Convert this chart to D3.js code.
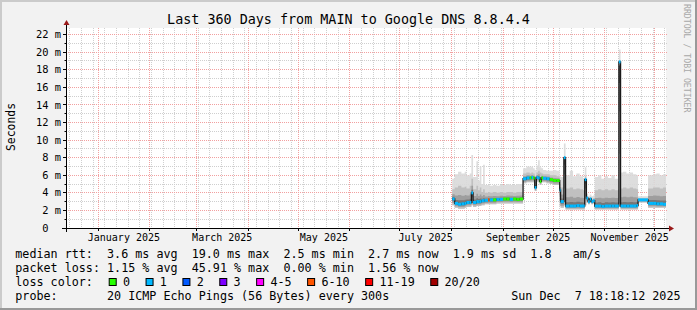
<!DOCTYPE html>
<html lang="en">

<head>
    <meta charset="UTF-8">
    <title>Last 360 Days from MAIN to Google DNS 8.8.4.4</title>
    <style>
        body {
            margin: 0;
            background: #ffffff;
        }

        svg text {
            font-family: "DejaVu Sans Mono", monospace;
        }
    </style>
    <script src="https://d3js.org/d3.v7.min.js"></script>
</head>

<body>
    <div id="chart"></div>

    <script>
        // chart texts
        const title = "Last 360 Days from MAIN to Google DNS 8.8.4.4";
        const yTitle = "Seconds";
        const watermark = "RRDTOOL / TOBI OETIKER";
        const rangeStart = "2024-12-12 18:18";
        const rangeEnd = "2025-12-07 18:18";
        const yTicks = [0, 2, 4, 6, 8, 10, 12, 14, 16, 18, 20, 22];
        const monthLabels = ["January 2025", "March 2025", "May 2025", "July 2025", "September 2025", "November 2025"];
        const monthLabelStarts = ["2025-01-01", "2025-03-01", "2025-05-01", "2025-07-01", "2025-09-01", "2025-11-01"];

        // samples (ms)
        const sampleTimes = [
            "2025-08-01 12", "2025-08-03 00", "2025-08-05 00", "2025-08-07 00", "2025-08-09 00", "2025-08-10 00",
            "2025-08-12 00", "2025-08-13 00", "2025-08-14 00", "2025-08-16 00", "2025-08-17 00", "2025-08-18 00",
            "2025-08-19 00", "2025-08-20 00", "2025-08-21 00", "2025-08-23 00", "2025-08-24 00", "2025-08-26 00",
            "2025-08-28 00", "2025-08-30 00", "2025-09-01 00", "2025-09-03 00", "2025-09-05 00", "2025-09-07 00",
            "2025-09-09 00", "2025-09-11 00", "2025-09-13 00", "2025-09-15 00", "2025-09-17 00", "2025-09-18 00",
            "2025-09-19 00", "2025-09-20 00", "2025-09-21 00", "2025-09-22 00", "2025-09-23 00", "2025-09-24 00",
            "2025-09-25 00", "2025-09-27 00", "2025-09-29 00", "2025-10-01 00", "2025-10-03 00", "2025-10-05 00",
            "2025-10-05 12", "2025-10-07 12", "2025-10-08 12", "2025-10-11 00", "2025-10-13 00", "2025-10-15 00",
            "2025-10-17 00", "2025-10-19 00", "2025-10-20 00", "2025-10-21 00", "2025-10-22 00", "2025-10-23 00",
            "2025-10-24 00", "2025-10-25 00", "2025-10-26 00", "2025-10-28 00", "2025-10-30 00", "2025-11-01 00",
            "2025-11-03 00", "2025-11-05 00", "2025-11-07 00", "2025-11-09 00", "2025-11-09 12", "2025-11-10 12",
            "2025-11-12 00", "2025-11-14 00", "2025-11-16 00", "2025-11-18 00", "2025-11-20 00", "2025-11-21 00",
            "2025-11-27 00", "2025-11-30 00", "2025-12-02 00", "2025-12-04 00", "2025-12-06 00"
        ];
        const medianMs = [
            3.3, 2.8, 2.7, 2.75, 2.8, 2.9, 2.9, 4.0, 2.9, 3.0, 3.0, 3.0,
            3.1, 3.1, 3.15, 3.2, 3.2, 3.2, 3.25, 3.25, 3.3, 3.3, 3.25, 3.3,
            3.25, 3.3, 5.6, 5.7, 5.7, 5.75, 5.7, 4.6, 5.75, 5.7, 5.3, 5.7,
            5.65, 5.6, 5.5, 5.4, 5.4, 4.3, 3.0, 8.0, 2.5, 2.5, 2.5, 2.55,
            2.5, 2.5, 5.5, 3.4, 3.0, 3.3, 3.0, 3.1, 2.5, 2.5, 2.45, 2.5,
            2.5, 2.5, 2.5, 2.5, 18.9, 2.5, 2.5, 2.5, 2.5, 2.5, 2.55, 3.2,
            2.8, 2.8, 2.75, 2.75, 2.7
        ];
        // index into lossLabels
        const lossClass = [
            1, 1, 1, 1, 1, 1, 1, 1, 1, 1, 1, 1,
            1, 1, 1, 5, 1, 0, 1, 1, 0, 0, 1, 0,
            0, 0, 1, 1, 0, 1, 0, 1, 1, 1, 0, 0,
            1, 1, 0, 0, 0, 1, 1, 1, 1, 1, 1, 1,
            1, 1, 1, 1, 1, 1, 1, 1, 1, 1, 1, 1,
            1, 1, 1, 1, 1, 1, 1, 1, 1, 1, 1, 1,
            1, 1, 1, 1, 1
        ];
        const smokeLow = [
            2.6, 2.3, 2.2, 2.2, 2.3, 2.4, 2.4, 2.6, 2.4, 2.5, 2.5, 2.5,
            2.6, 2.6, 2.7, 2.7, 2.7, 2.7, 2.8, 2.8, 2.8, 2.8, 2.8, 2.8,
            2.8, 2.8, 5.1, 5.2, 5.2, 5.2, 5.2, 4.2, 5.3, 5.2, 4.9, 5.2,
            5.2, 5.1, 5.0, 4.9, 4.9, 2.5, 2.3, 2.6, 2.1, 2.1, 2.1, 2.1,
            2.1, 2.1, 2.6, 2.9, 2.7, 2.9, 2.7, 2.8, 2.1, 2.1, 2.1, 2.1,
            2.1, 2.1, 2.1, 2.1, 2.8, 2.1, 2.1, 2.1, 2.1, 2.1, 2.1, 2.9,
            2.3, 2.3, 2.3, 2.3, 2.3
        ];
        const smokeUpper = [
            4.4, 4.6, 4.8, 4.6, 4.7, 4.5, 4.8, 5.6, 4.4, 4.8, 4.3, 4.6,
            4.1, 4.4, 4.0, 4.1, 4.0, 4.1, 4.0, 4.1, 4.0, 4.1, 4.1, 4.0,
            4.1, 4.1, 6.2, 6.3, 6.2, 6.3, 6.2, 5.9, 6.3, 6.5, 6.3, 6.2,
            6.1, 6.1, 6.0, 6.0, 5.9, 5.0, 4.6, 7.0, 4.5, 4.6, 4.4, 4.5,
            4.4, 4.3, 5.9, 3.6, 3.3, 3.5, 3.3, 3.4, 4.3, 4.4, 4.3, 4.4,
            4.3, 4.4, 4.3, 4.4, 12.0, 4.5, 4.6, 4.5, 4.6, 4.5, 4.4, 3.4,
            4.5, 4.6, 4.6, 4.5, 4.6
        ];
        const smokeTop = [
            5.6, 6.1, 6.4, 6.2, 6.4, 6.0, 6.2, 8.3, 5.8, 7.6, 5.4, 7.0,
            5.0, 7.2, 4.9, 4.9, 4.8, 4.9, 4.8, 4.9, 4.9, 5.0, 4.9, 4.9,
            5.0, 5.0, 6.8, 7.0, 6.9, 7.0, 6.8, 6.6, 7.1, 7.7, 6.9, 6.8,
            6.6, 6.5, 6.5, 6.6, 6.5, 6.0, 5.8, 9.6, 6.0, 6.5, 5.9, 6.2,
            5.9, 5.7, 6.9, 3.9, 3.6, 3.8, 3.6, 3.7, 5.8, 6.0, 5.6, 5.9,
            5.7, 6.0, 5.6, 5.8, 20.3, 6.3, 6.4, 6.2, 6.3, 6.1, 6.0, 3.6,
            6.0, 6.1, 6.2, 6.0, 6.1
        ];

        // legend
        const lossLabels = ["0", "1", "2", "3", "4-5", "6-10", "11-19", "20/20"];
        const lossColors = ["#26ff00", "#00b8ff", "#0059ff", "#7e00ff", "#ff00ff", "#ff5500", "#ff0000", "#a00000"];
        const legendLines = [
            "median rtt:  3.6 ms avg  19.0 ms max  2.5 ms min  2.7 ms now  1.9 ms sd  1.8   am/s",
            "packet loss: 1.15 % avg  45.91 % max  0.00 % min  1.56 % now",
            "loss color:",
            "probe:       20 ICMP Echo Pings (56 Bytes) every 300s"
        ];
        const stamp = "Sun Dec  7 18:18:12 2025";

        const W = 697, H = 310;
        const plotL = 66, plotR = 666, plotT = 28, plotB = 228;
        const charW = 7.06;

        const parseT = d3.timeParse("%Y-%m-%d %H");
        const parseM = d3.timeParse("%Y-%m-%d %H:%M");
        const parseD = d3.timeParse("%Y-%m-%d");
        const t0 = parseM(rangeStart);
        const t1 = parseM(rangeEnd);

        const x = d3.scaleTime().domain([t0, t1]).range([plotL, plotR]);
        const y = d3.scaleLinear().domain([0, 22.75]).range([plotB, plotT]);

        const data = sampleTimes.map((s, i) => ({
            t: parseT(s),
            med: medianMs[i],
            loss: lossClass[i],
            low: smokeLow[i],
            upper: smokeUpper[i],
            top: smokeTop[i]
        }));
        // last sample holds to the end of the range
        const stepData = data.concat([Object.assign({}, data[data.length - 1], { t: t1 })]);

        const svg = d3.select("#chart")
            .append("svg")
            .attr("width", W)
            .attr("height", H);

        // background + 3d frame
        svg.append("rect").attr("width", W).attr("height", H).attr("fill", "#f2f2f2");
        svg.append("path").attr("d", `M0,${H} V0 H${W}`).attr("stroke", "#cbcbcb").attr("stroke-width", 4).attr("fill", "none");
        svg.append("path").attr("d", `M0,${H} H${W} V0`).attr("stroke", "#999999").attr("stroke-width", 4).attr("fill", "none");
        svg.append("rect")
            .attr("x", plotL)
            .attr("y", plotT)
            .attr("width", plotR - plotL)
            .attr("height", plotB - plotT)
            .attr("fill", "#ffffff");

        // grid (under the smoke)
        const gridG = svg.append("g").attr("stroke-width", 1).attr("stroke-dasharray", "1,1");
        const px = v => Math.floor(v) + 0.5;
        d3.range(1, 23).forEach(v => {
            if (v % 2 === 0) return;
            gridG.append("line")
                .attr("x1", plotL).attr("x2", plotR + 2)
                .attr("y1", px(y(v))).attr("y2", px(y(v)))
                .attr("stroke", "#cfcfcf");
        });
        d3.timeSunday.range(t0, t1).forEach(d => {
            gridG.append("line")
                .attr("x1", px(x(d))).attr("x2", px(x(d)))
                .attr("y1", plotT).attr("y2", plotB)
                .attr("stroke", "#cfcfcf");
        });
        yTicks.filter(v => v > 0).forEach(v => {
            gridG.append("line")
                .attr("x1", plotL).attr("x2", plotR + 2)
                .attr("y1", px(y(v))).attr("y2", px(y(v)))
                .attr("stroke", "#f2a0a0");
        });
        d3.timeMonth.range(t0, t1).forEach(d => {
            gridG.append("line")
                .attr("x1", px(x(d))).attr("x2", px(x(d)))
                .attr("y1", plotT).attr("y2", plotB)
                .attr("stroke", "#f2a0a0");
        });

        // smoke
        const bands = [
            { lo: d => d.low, hi: d => d.top, fill: "#d9d9d9" },
            { lo: d => d.low, hi: d => d.upper, fill: "#bcbcbc" },
            { lo: d => d.low + (d.med - d.low) * 0.35, hi: d => d.med + (d.upper - d.med) * 0.5, fill: "#9a9a9a" },
            { lo: d => d.low + (d.med - d.low) * 0.65, hi: d => d.med + (d.upper - d.med) * 0.22, fill: "#727272" },
            { lo: d => d.low + (d.med - d.low) * 0.85, hi: d => d.med + (d.upper - d.med) * 0.06, fill: "#4a4a4a" }
        ];
        bands.forEach(b => {
            svg.append("path")
                .datum(stepData)
                .attr("fill", b.fill)
                .attr("fill-opacity", 0.9)
                .attr("d", d3.area()
                    .curve(d3.curveStepAfter)
                    .x(d => x(d.t))
                    .y0(d => y(b.lo(d)))
                    .y1(d => y(b.hi(d))));
        });

        // median: thin dark line carries the jumps, coloured steps by loss
        svg.append("path")
            .datum(stepData)
            .attr("fill", "none")
            .attr("stroke", "#1a1a1a")
            .attr("stroke-width", 1.3)
            .attr("d", d3.line().curve(d3.curveStepAfter).x(d => x(d.t)).y(d => y(d.med)));
        data.forEach((d, i) => {
            svg.append("line")
                .attr("x1", x(d.t))
                .attr("x2", x(stepData[i + 1].t))
                .attr("y1", y(d.med))
                .attr("y2", y(d.med))
                .attr("stroke", lossColors[d.loss])
                .attr("stroke-width", 3);
        });

        // axes
        svg.append("line")
            .attr("x1", plotL - 4).attr("x2", plotR + 4)
            .attr("y1", plotB + 0.5).attr("y2", plotB + 0.5)
            .attr("stroke", "#000");
        svg.append("line")
            .attr("x1", plotL + 0.5).attr("x2", plotL + 0.5)
            .attr("y1", plotB + 4).attr("y2", plotT - 3)
            .attr("stroke", "#000");
        svg.append("path")
            .attr("d", `M${plotR + 3},${plotB - 2.5} L${plotR + 8},${plotB + 0.5} L${plotR + 3},${plotB + 3.5} Z`)
            .attr("fill", "#9a1a1a");
        svg.append("path")
            .attr("d", `M${plotL - 2.5},${plotT - 3} L${plotL + 0.5},${plotT - 8} L${plotL + 3.5},${plotT - 3} Z`)
            .attr("fill", "#9a1a1a");

        d3.range(0, 23).forEach(v => {
            svg.append("line")
                .attr("x1", v % 2 === 0 ? plotL - 3 : plotL - 1.5).attr("x2", plotL)
                .attr("y1", px(y(v))).attr("y2", px(y(v)))
                .attr("stroke", "#000");
        });
        d3.timeMonth.range(t0, t1).forEach(d => {
            svg.append("line")
                .attr("x1", px(x(d))).attr("x2", px(x(d)))
                .attr("y1", plotB).attr("y2", plotB + 3)
                .attr("stroke", "#000");
        });

        svg.selectAll(".ylab")
            .data(yTicks)
            .enter()
            .append("text")
            .attr("x", 61)
            .attr("y", d => y(d))
            .attr("dy", "0.35em")
            .attr("text-anchor", "end")
            .attr("font-size", "10.4px")
            .attr("fill", "#000")
            .style("white-space", "pre")
            .text(d => d === 0 ? "0  " : d + " m");

        svg.selectAll(".xlab")
            .data(monthLabels)
            .enter()
            .append("text")
            .attr("x", (d, i) => {
                const m = parseD(monthLabelStarts[i]);
                return (x(m) + x(d3.timeMonth.offset(m, 1))) / 2;
            })
            .attr("y", 237.5)
            .attr("dy", "0.35em")
            .attr("text-anchor", "middle")
            .attr("font-size", "10px")
            .attr("fill", "#000")
            .text(d => d);

        // titles
        svg.append("text")
            .attr("x", W / 2)
            .attr("y", 19.5)
            .attr("dy", "0.35em")
            .attr("text-anchor", "middle")
            .attr("font-size", "13.4px")
            .attr("fill", "#000")
            .text(title);
        svg.append("text")
            .attr("transform", "translate(11,127) rotate(-90)")
            .attr("dy", "0.35em")
            .attr("text-anchor", "middle")
            .attr("font-size", "11.4px")
            .attr("fill", "#000")
            .text(yTitle);
        svg.append("text")
            .attr("transform", "translate(687,4) rotate(90)")
            .attr("dy", "0.35em")
            .attr("font-size", "8.2px")
            .attr("fill", "#a8a8a8")
            .text(watermark);

        // legend
        const legY = [254.3, 268.3, 282.3, 296];
        legendLines.forEach((s, i) => {
            svg.append("text")
                .attr("x", 15.3)
                .attr("y", legY[i])
                .attr("dy", "0.35em")
                .attr("font-size", "11.73px")
                .attr("fill", "#000")
                .style("white-space", "pre")
                .text(s);
        });
        svg.append("text")
            .attr("x", 680.5)
            .attr("y", legY[3])
            .attr("dy", "0.35em")
            .attr("text-anchor", "end")
            .attr("font-size", "11.73px")
            .attr("fill", "#000")
            .style("white-space", "pre")
            .text(stamp);

        let bx = 108.7;
        lossLabels.forEach((lab, i) => {
            svg.append("rect")
                .attr("x", bx + 0.5)
                .attr("y", legY[2] - 3.8)
                .attr("width", 7)
                .attr("height", 7)
                .attr("fill", lossColors[i])
                .attr("stroke", "#000");
            svg.append("text")
                .attr("x", bx + 14.3)
                .attr("y", legY[2])
                .attr("dy", "0.35em")
                .attr("font-size", "11.73px")
                .attr("fill", "#000")
                .text(lab);
            bx += 29.8 + lab.length * charW;
        });
    </script>
</body>

</html>
